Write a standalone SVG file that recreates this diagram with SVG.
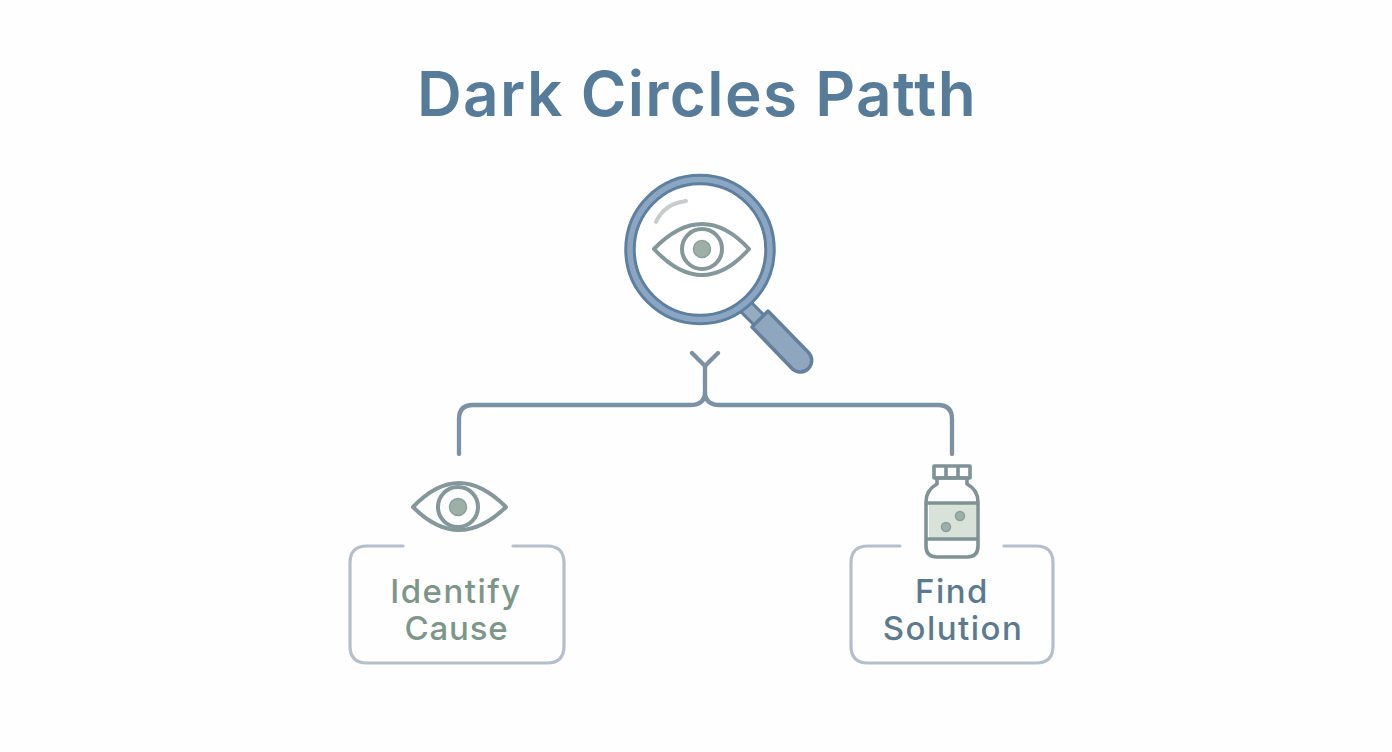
<svg xmlns="http://www.w3.org/2000/svg" width="1392" height="752" viewBox="0 0 1392 752">
<style>
text{font-family:Inter,"Liberation Sans",sans-serif;text-anchor:middle}
.title{font-size:62px;font-weight:600;fill:#567c99;letter-spacing:1.35px}
.lab{font-size:33px;font-weight:500;letter-spacing:1.5px}
.tight{letter-spacing:.8px}
.green{fill:#7c978a}
.blue{fill:#5c7a8f}
.box{fill:none;stroke:#b5bfcc;stroke-width:3.2;stroke-linecap:round}
.conn{fill:none;stroke:#7b91a4;stroke-width:4.300;stroke-linecap:round;stroke-linejoin:round}
.eye{fill:none;stroke:#84979b;stroke-width:4;stroke-linejoin:round}
.pupil{fill:#9db0a8;stroke:#8a9e9e;stroke-width:1.500}
.bot{fill:none;stroke:#7f9295;stroke-width:3.600;stroke-linejoin:round}
</style>
<rect width="1392" height="752" fill="#fefefe"/>
<g id="title"><text class="title" x="697" y="116">Dark Circles Patth</text></g>
<g id="connectors">
<path class="conn" d="M692 353L705 366L718 353M705 366V392Q705 405 690 405H473Q459 405 459 419V454"/>
<path class="conn" d="M705 392Q705 405 720 405H938Q952 405 952 419V454"/>
</g>
<g id="magnifier">
<path d="M745 306L760 321" stroke="#5f7d9c" stroke-width="17" fill="none"/>
<path d="M745 306L760 321" stroke="#94abc0" stroke-width="11" fill="none"/>
<path d="M768 311L808.500 352.500A11.500 11.500 0 0 1 792.500 369L752 327Z" fill="#8fa6bf" stroke="#64809c" stroke-width="3.500" stroke-linejoin="round"/>
<circle cx="700" cy="249.500" r="70" fill="#fff" stroke="#5f7f9f" stroke-width="11.500"/>
<circle cx="700" cy="249.500" r="70" fill="none" stroke="#8aa6c2" stroke-width="5.500"/>
<path d="M656 222Q664 204 686 201" fill="none" stroke="#c8cccc" stroke-width="4" stroke-linecap="round"/>
<path class="eye" d="M654 249Q678 224 702 224Q726 224 749 249Q726 275 702 275Q678 275 654 249Z"/>
<circle class="eye" cx="702" cy="249" r="20"/>
<circle class="pupil" cx="702" cy="249" r="8.500"/>
</g>
<g id="identify-cause">
<path class="box" d="M403 546H367Q350 546 350 563V646Q350 663 367 663H547Q564 663 564 646V563Q564 546 547 546H513"/>
<path class="eye" d="M413 507Q436 483 459 483Q482 483 506 507Q482 530 459 530Q436 530 413 507Z"/>
<circle class="eye" cx="458" cy="507" r="20"/>
<circle class="pupil" cx="458" cy="507" r="8.500"/>
<text class="lab green" x="456" y="603">Identify</text>
<text class="lab green tight" x="456.500" y="640">Cause</text>
</g>
<g id="find-solution">
<path class="box" d="M900 546H868Q851 546 851 563V646Q851 663 868 663H1036Q1053 663 1053 646V563Q1053 546 1036 546H1004"/>
<rect x="929" y="504" width="47" height="35" fill="#d8e2d9"/>
<path class="bot" d="M937 478V484Q926 490 926 502V546Q926 557 937 557H967Q978 557 978 546V502Q978 490 967 484V478Z"/>
<rect class="bot" x="934" y="466" width="36" height="12"/>
<path class="bot" d="M946 466V478M958 466V478M926 503H978M926 539H978"/>
<circle class="pupil" cx="960" cy="516" r="4.500"/>
<circle class="pupil" cx="946" cy="527" r="4.500"/>
<text class="lab blue" x="952" y="603">Find</text>
<text class="lab blue" x="953" y="640">Solution</text>
</g>
</svg>
